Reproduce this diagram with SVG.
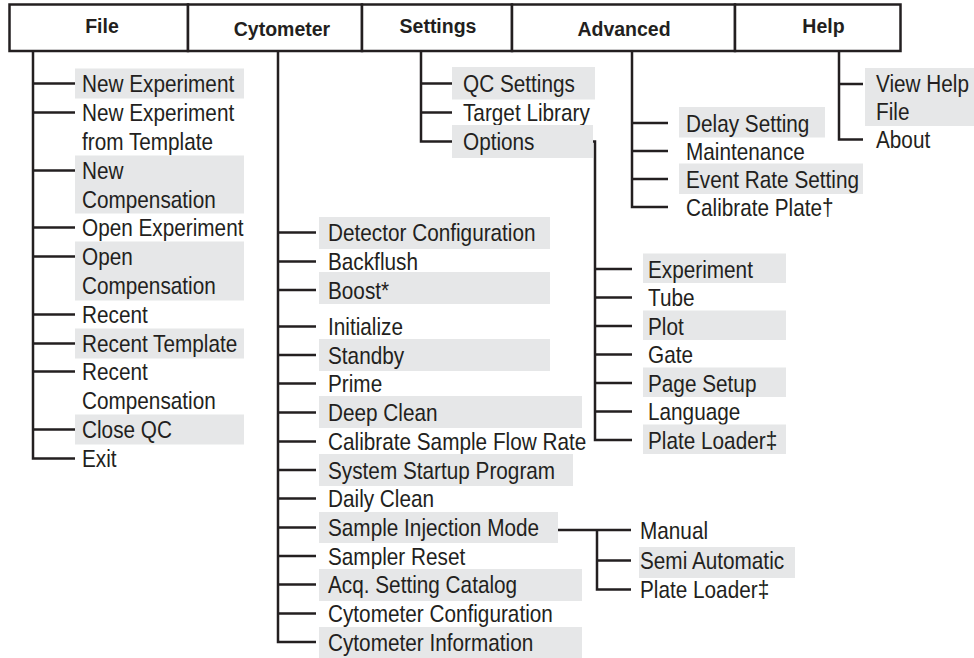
<svg xmlns="http://www.w3.org/2000/svg" width="974" height="658" viewBox="0 0 974 658">
<style>
.hd{font-family:"Liberation Sans",Arial,sans-serif;font-weight:bold;font-size:19.5px;fill:#231f20;text-anchor:middle}
.it{font-family:"Liberation Sans",Arial,sans-serif;font-size:24px;fill:#231f20}
.hl{fill:#e6e7e8}
.cell{fill:#fff;stroke:#231f20;stroke-width:2.5}
.ln{fill:none;stroke:#231f20;stroke-width:2.5}
</style>
<rect width="974" height="658" fill="#fff"/>

<g id="menu-bar">
  <g id="hdr-file"><rect class="cell" x="9.5" y="4.5" width="178.5" height="46.5"/><text class="hd" x="102" y="33">File</text></g>
  <g id="hdr-cytometer"><rect class="cell" x="188" y="4.5" width="174" height="46.5"/><text class="hd" x="282" y="35.5">Cytometer</text></g>
  <g id="hdr-settings"><rect class="cell" x="362" y="4.5" width="150" height="46.5"/><text class="hd" x="438" y="33">Settings</text></g>
  <g id="hdr-advanced"><rect class="cell" x="512" y="4.5" width="223" height="46.5"/><text class="hd" x="624" y="35.5">Advanced</text></g>
  <g id="hdr-help"><rect class="cell" x="735" y="4.5" width="165.5" height="46.5"/><text class="hd" x="823.5" y="33">Help</text></g>
</g>

<g id="connectors" class="ln">
  <path d="M33 51V458.5H75M33 83.5H75M33 112.5H75M33 170.5H75M33 227.5H75M33 256.5H75M33 314.5H75M33 343.5H75M33 371.5H75M33 429.5H75"/>
  <path d="M278 51V642H316M278 232.5H316M278 261.5H316M278 290H316M278 326.5H316M278 355H316M278 383.5H316M278 412.5H316M278 441.5H316M278 470H316M278 498.5H316M278 527.5H316M278 556H316M278 584.5H316M278 613.5H316"/>
  <path d="M421 51V141.5H452M421 83.5H452M421 112.5H452"/>
  <path d="M540 141.5H595V440H632M595 269H632M595 297.5H632M595 326H632M595 354.5H632M595 383H632M595 411.5H632"/>
  <path d="M632 51V207H668M632 123H668M632 151H668M632 179H668"/>
  <path d="M839 51V139.5H863M839 84H863"/>
  <path d="M557 530H631M597 530V589.5H631M597 560.5H631"/>
</g>

<g id="file-menu">
  <g id="f-new-experiment"><rect class="hl" x="75" y="68.5" width="169" height="30"/><text class="it" transform="translate(82 92) scale(0.865 1)">New Experiment</text></g>
  <g id="f-new-experiment-template"><text class="it" transform="translate(82 121) scale(0.865 1)"><tspan x="0" y="0">New Experiment</tspan><tspan x="0" y="28.8">from Template</tspan></text></g>
  <g id="f-new-compensation"><rect class="hl" x="75" y="155.5" width="169" height="58"/><text class="it" transform="translate(82 179) scale(0.865 1)"><tspan x="0" y="0">New</tspan><tspan x="0" y="28.8">Compensation</tspan></text></g>
  <g id="f-open-experiment"><text class="it" transform="translate(82 236) scale(0.865 1)">Open Experiment</text></g>
  <g id="f-open-compensation"><rect class="hl" x="75" y="241.5" width="169" height="59"/><text class="it" transform="translate(82 265) scale(0.865 1)"><tspan x="0" y="0">Open</tspan><tspan x="0" y="28.8">Compensation</tspan></text></g>
  <g id="f-recent"><text class="it" transform="translate(82 323) scale(0.865 1)">Recent</text></g>
  <g id="f-recent-template"><rect class="hl" x="75" y="328.5" width="169" height="30"/><text class="it" transform="translate(82 352) scale(0.865 1)">Recent Template</text></g>
  <g id="f-recent-compensation"><text class="it" transform="translate(82 380) scale(0.865 1)"><tspan x="0" y="0">Recent</tspan><tspan x="0" y="28.8">Compensation</tspan></text></g>
  <g id="f-close-qc"><rect class="hl" x="75" y="414.5" width="169" height="30"/><text class="it" transform="translate(82 438) scale(0.865 1)">Close QC</text></g>
  <g id="f-exit"><text class="it" transform="translate(82 467) scale(0.865 1)">Exit</text></g>
</g>

<g id="cytometer-menu">
  <g id="c-detector"><rect class="hl" x="319" y="217" width="231" height="32"/><text class="it" transform="translate(328 241) scale(0.865 1)">Detector Configuration</text></g>
  <g id="c-backflush"><text class="it" transform="translate(328 270) scale(0.865 1)">Backflush</text></g>
  <g id="c-boost"><rect class="hl" x="319" y="272" width="231" height="32"/><text class="it" transform="translate(328 298.5) scale(0.865 1)">Boost*</text></g>
  <g id="c-initialize"><text class="it" transform="translate(328 335) scale(0.865 1)">Initialize</text></g>
  <g id="c-standby"><rect class="hl" x="319" y="339" width="231" height="32"/><text class="it" transform="translate(328 363.5) scale(0.865 1)">Standby</text></g>
  <g id="c-prime"><text class="it" transform="translate(328 392) scale(0.865 1)">Prime</text></g>
  <g id="c-deep-clean"><rect class="hl" x="319" y="396" width="263" height="32"/><text class="it" transform="translate(328 421) scale(0.865 1)">Deep Clean</text></g>
  <g id="c-calibrate"><text class="it" transform="translate(328 450) scale(0.865 1)">Calibrate Sample Flow Rate</text></g>
  <g id="c-startup"><rect class="hl" x="319" y="454" width="254" height="32"/><text class="it" transform="translate(328 478.5) scale(0.865 1)">System Startup Program</text></g>
  <g id="c-daily-clean"><text class="it" transform="translate(328 507) scale(0.865 1)">Daily Clean</text></g>
  <g id="c-injection-mode"><rect class="hl" x="319" y="512" width="239" height="31"/><text class="it" transform="translate(328 536) scale(0.865 1)">Sample Injection Mode</text></g>
  <g id="c-sampler-reset"><text class="it" transform="translate(328 564.5) scale(0.865 1)">Sampler Reset</text></g>
  <g id="c-acq-catalog"><rect class="hl" x="319" y="569" width="263" height="32"/><text class="it" transform="translate(328 593) scale(0.865 1)">Acq. Setting Catalog</text></g>
  <g id="c-cyt-config"><text class="it" transform="translate(328 622) scale(0.865 1)">Cytometer Configuration</text></g>
  <g id="c-cyt-info"><rect class="hl" x="319" y="627" width="263" height="31"/><text class="it" transform="translate(328 650.5) scale(0.865 1)">Cytometer Information</text></g>
</g>

<g id="injection-submenu">
  <g id="i-manual"><text class="it" transform="translate(640 539) scale(0.865 1)">Manual</text></g>
  <g id="i-semi"><rect class="hl" x="639" y="547" width="156" height="31"/><text class="it" transform="translate(640 569) scale(0.865 1)">Semi Automatic</text></g>
  <g id="i-plate-loader"><text class="it" transform="translate(640 598) scale(0.865 1)">Plate Loader‡</text></g>
</g>

<g id="settings-menu">
  <g id="s-qc"><rect class="hl" x="452" y="67" width="143" height="32.5"/><text class="it" transform="translate(463 92) scale(0.865 1)">QC Settings</text></g>
  <g id="s-target"><text class="it" transform="translate(463 121) scale(0.865 1)">Target Library</text></g>
  <g id="s-options"><rect class="hl" x="452" y="125" width="141" height="33"/><text class="it" transform="translate(463 150) scale(0.865 1)">Options</text></g>
</g>

<g id="options-submenu">
  <g id="o-experiment"><rect class="hl" x="643" y="253.5" width="143" height="29.5"/><text class="it" transform="translate(648 277.5) scale(0.865 1)">Experiment</text></g>
  <g id="o-tube"><text class="it" transform="translate(648 306) scale(0.865 1)">Tube</text></g>
  <g id="o-plot"><rect class="hl" x="643" y="310.5" width="143" height="29.5"/><text class="it" transform="translate(648 334.5) scale(0.865 1)">Plot</text></g>
  <g id="o-gate"><text class="it" transform="translate(648 363) scale(0.865 1)">Gate</text></g>
  <g id="o-page-setup"><rect class="hl" x="643" y="367.5" width="143" height="29.5"/><text class="it" transform="translate(648 391.5) scale(0.865 1)">Page Setup</text></g>
  <g id="o-language"><text class="it" transform="translate(648 420) scale(0.865 1)">Language</text></g>
  <g id="o-plate-loader"><rect class="hl" x="643" y="424.5" width="143" height="29.5"/><text class="it" transform="translate(648 448.5) scale(0.865 1)">Plate Loader‡</text></g>
</g>

<g id="advanced-menu">
  <g id="a-delay"><rect class="hl" x="679" y="107" width="146" height="30.5"/><text class="it" transform="translate(686 131.5) scale(0.865 1)">Delay Setting</text></g>
  <g id="a-maintenance"><text class="it" transform="translate(686 159.5) scale(0.865 1)">Maintenance</text></g>
  <g id="a-event-rate"><rect class="hl" x="679" y="163.5" width="184" height="30.5"/><text class="it" transform="translate(686 187.5) scale(0.865 1)">Event Rate Setting</text></g>
  <g id="a-calibrate-plate"><text class="it" transform="translate(686 215.5) scale(0.865 1)">Calibrate Plate†</text></g>
</g>

<g id="help-menu">
  <g id="h-view-help"><rect class="hl" x="865" y="68" width="109" height="58"/><text class="it" transform="translate(876 92) scale(0.865 1)"><tspan x="0" y="0">View Help</tspan><tspan x="0" y="28.5">File</tspan></text></g>
  <g id="h-about"><text class="it" transform="translate(876 148) scale(0.865 1)">About</text></g>
</g>
</svg>
